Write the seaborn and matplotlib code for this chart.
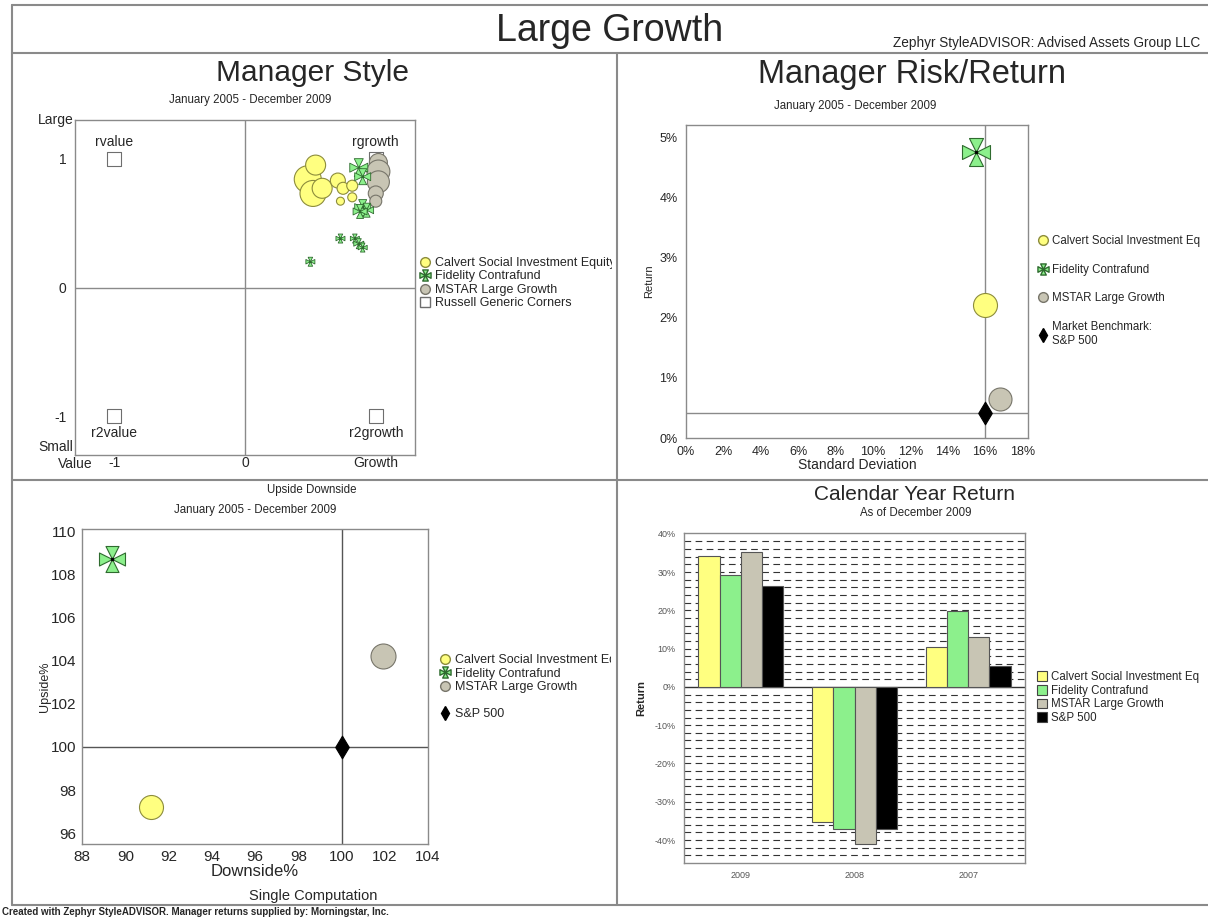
import numpy as np
import pandas as pd
import seaborn as sns
import matplotlib.pyplot as plt
from matplotlib.lines import Line2D
from matplotlib.patches import Patch
from matplotlib.path import Path
from matplotlib.transforms import Bbox, TransformedBbox
from matplotlib.ticker import MultipleLocator, FuncFormatter

sns.set_style("white")
plt.rcParams["font.family"] = ["Liberation Sans", "DejaVu Sans"]

# ---------------- data ----------------
funds = ["Calvert Social Investment Equity", "Fidelity Contrafund",
         "MSTAR Large Growth", "S&P 500"]
calvert_short = "Calvert Social Investment Eq"

# manager style map (value -> growth, small -> large), bubble diameter ~ weight
calvert_style_x = [0.48, 0.54, 0.52, 0.59, 0.71, 0.75, 0.82, 0.73, 0.82]
calvert_style_y = [0.84, 0.95, 0.73, 0.77, 0.83, 0.77, 0.79, 0.67, 0.70]
calvert_style_w = [27, 20, 26, 20, 15, 12, 11, 8, 9]
fidelity_style_x = [0.87, 0.90, 0.90, 0.93, 0.88, 0.73, 0.84, 0.87, 0.90, 0.50]
fidelity_style_y = [0.93, 0.86, 0.62, 0.60, 0.59, 0.38, 0.38, 0.34, 0.31, 0.20]
fidelity_style_w = [18, 16, 16, 14, 14, 9, 9, 10, 9, 9]
mstar_style_x = [1.02, 1.02, 1.02, 1.00, 1.00]
mstar_style_y = [0.97, 0.90, 0.82, 0.73, 0.67]
mstar_style_w = [18, 23, 22, 15, 12]
corner_names = ["rvalue", "rgrowth", "r2value", "r2growth"]
corner_x = [-1, 1, -1, 1]
corner_y = [1, 1, -1, -1]

# risk / return, Jan 2005 - Dec 2009 (%)
risk_std = [16.0, 15.5, 16.8, 16.0]
risk_ret = [2.21, 4.75, 0.64, 0.42]

# upside / downside capture (%)
downside = [91.2, 89.4, 101.9, 100.0]
upside = [97.2, 108.7, 104.2, 100.0]

# calendar year returns (%)
years = ["2009", "2008", "2007"]
ret_calvert = [34.3, -35.4, 10.4]
ret_fidelity = [29.3, -37.2, 19.7]
ret_mstar = [35.2, -41.0, 13.1]
ret_sp500 = [26.4, -37.0, 5.5]

# ---------------- styling ----------------
YELLOW, YEDGE = "#FFFF80", "#8C8C3C"
GREEN, GEDGE = "#8CF08C", "#2F6B2F"
GRAY, GRAYEDGE = "#C8C5B4", "#77756A"
FRAME = "#8A8A8A"
W, H = 1208, 918

# four-arm cross marker used for Fidelity
verts, codes = [], []
for tri in [((0, 0), (-0.5, 1), (0.5, 1)), ((0, 0), (1, 0.5), (1, -0.5)),
            ((0, 0), (0.5, -1), (-0.5, -1)), ((0, 0), (-1, -0.5), (-1, 0.5))]:
    verts += [tri[0], tri[1], tri[2], tri[0]]
    codes += [Path.MOVETO, Path.LINETO, Path.LINETO, Path.CLOSEPOLY]
CROSS = Path(verts, codes)


def px_s(d):
    return (np.asarray(d, dtype=float) * 0.72) ** 2


def ax_at(l, t, r, b):
    a = fig.add_axes([l / W, 1 - b / H, (r - l) / W, (b - t) / H])
    for sp in a.spines.values():
        sp.set_color(FRAME)
        sp.set_linewidth(1)
    a.tick_params(direction="out", length=4, color=FRAME, width=0.8, pad=2)
    return a


def ftext(x, y, s, **kw):
    kw.setdefault("ha", "center")
    kw.setdefault("va", "center")
    fig.text(x / W, 1 - y / H, s, **kw)


def clip_legend(leg, xmax):
    box = TransformedBbox(Bbox([[0, 0], [xmax / W, 1]]), fig.transFigure)
    for t in leg.get_texts():
        t.set_clip_box(box)
        t.set_clip_on(True)


fig = plt.figure(figsize=(W / 100, H / 100), dpi=100)

# frame lines
for xs, ys in [([12, 12], [5, 905]), ([12, W], [5, 5]), ([12, W], [53, 53]),
               ([617, 617], [53, 905]), ([12, W], [480, 480]), ([12, W], [905, 905])]:
    fig.add_artist(Line2D([x / W for x in xs], [1 - y / H for y in ys],
                          color=FRAME, lw=1.5, transform=fig.transFigure))

ftext(610, 31, "Large Growth", fontsize=27)
ftext(1200, 43, "Zephyr StyleADVISOR: Advised Assets Group LLC", fontsize=9.8, ha="right")
ftext(2, 912, "Created with Zephyr StyleADVISOR. Manager returns supplied by: Morningstar, Inc.",
      fontsize=7, fontweight="bold", ha="left")

# ---------------- Manager Style ----------------
ftext(313, 73, "Manager Style", fontsize=21.5)
ftext(250, 100, "January 2005 - December 2009", fontsize=8.3)
ax1 = ax_at(75, 120, 415, 455)
ax1.axvline(0, color=FRAME, lw=1, zorder=0)
ax1.axhline(0, color=FRAME, lw=1, zorder=0)
sns.scatterplot(x=corner_x, y=corner_y, marker="s", s=110, facecolor="white",
                edgecolor="#6E6E6E", linewidth=0.8, ax=ax1, zorder=2)
for name, cx, cy in zip(corner_names, corner_x, corner_y):
    ax1.annotate(name, (cx, cy), xytext=(0, 12 * cy), textcoords="offset points",
                 ha="center", va="center", fontsize=10)
sns.scatterplot(x=calvert_style_x, y=calvert_style_y, s=px_s(calvert_style_w),
                color=YELLOW, edgecolor=YEDGE, linewidth=0.8, ax=ax1, zorder=3)
sns.scatterplot(x=mstar_style_x, y=mstar_style_y, s=px_s(mstar_style_w),
                color=GRAY, edgecolor=GRAYEDGE, linewidth=0.8, ax=ax1, zorder=3)
sns.scatterplot(x=fidelity_style_x, y=fidelity_style_y, s=px_s(fidelity_style_w),
                marker=CROSS, color=GREEN, edgecolor=GEDGE, linewidth=0.6, ax=ax1, zorder=4)
ax1.set_xlim(-1.3, 1.3)
ax1.set_ylim(-1.3, 1.3)
ax1.set_xticks([-1, 0, 1])
ax1.set_xticklabels(["-1", "0", "Growth"])
ax1.set_yticks([-1, 0, 1])
ax1.set_yticklabels(["-1", "0", "1"])
ax1.tick_params(labelsize=10)
ax1.tick_params(axis="x", direction="in", length=3, pad=1)
ax1.text(-0.005, 1.0, "Large", transform=ax1.transAxes, ha="right", va="center", fontsize=10)
ax1.text(-0.005, 0.003, "Small", transform=ax1.transAxes, ha="right", va="bottom", fontsize=10)
ax1.text(0.0, -0.006, "Value", transform=ax1.transAxes, ha="center", va="top", fontsize=10)
h1 = [Line2D([], [], ls="none", marker="o", ms=7, mfc=YELLOW, mec=YEDGE),
      Line2D([], [], ls="none", marker=CROSS, ms=8, mfc=GREEN, mec=GEDGE),
      Line2D([], [], ls="none", marker="o", ms=7, mfc=GRAY, mec=GRAYEDGE),
      Line2D([], [], ls="none", marker="s", ms=7, mfc="white", mec="#6E6E6E")]
leg1 = ax1.legend(h1, funds[:3] + ["Russell Generic Corners"], loc="upper left",
                  bbox_to_anchor=(420 / W, 1 - 257 / H), bbox_transform=fig.transFigure,
                  frameon=False, fontsize=9, handlelength=0.8, handletextpad=0.4,
                  labelspacing=0.12, borderpad=0, borderaxespad=0)
clip_legend(leg1, 612)

# ---------------- Manager Risk/Return ----------------
ftext(912, 75, "Manager Risk/Return", fontsize=23.5)
ftext(855, 106, "January 2005 - December 2009", fontsize=8.3)
ax2 = ax_at(686, 125, 1028, 438)
ax2.axvline(risk_std[3], color=FRAME, lw=1, zorder=0)
ax2.axhline(risk_ret[3], color=FRAME, lw=1, zorder=0)
styles2 = [("o", YELLOW, YEDGE, 24), (CROSS, GREEN, GEDGE, 28),
           ("o", GRAY, GRAYEDGE, 23), ("d", "black", "black", 16)]
for i, (mk, fc, ec, d) in enumerate(styles2):
    sns.scatterplot(x=[risk_std[i]], y=[risk_ret[i]], marker=mk, s=px_s(d),
                    color=fc, edgecolor=ec, linewidth=0.8, ax=ax2, zorder=3)
ax2.plot(risk_std[1], risk_ret[1], "o", ms=1.5, color="black", zorder=5)
ax2.set_xlim(0, 18.3)
ax2.set_ylim(0, 5.2)
ax2.set_xticks(range(0, 19, 2))
ax2.set_yticks(range(0, 6))
ax2.xaxis.set_major_formatter(FuncFormatter(lambda v, p: f"{v:.0f}%"))
ax2.yaxis.set_major_formatter(FuncFormatter(lambda v, p: f"{v:.0f}%"))
ax2.xaxis.set_minor_locator(MultipleLocator(0.5))
ax2.yaxis.set_minor_locator(MultipleLocator(0.1))
ax2.tick_params(which="minor", direction="out", length=2, color=FRAME, width=0.6)
ax2.tick_params(labelsize=9)
ax2.set_xlabel("Standard Deviation", fontsize=10, labelpad=0)
ax2.set_ylabel("Return", fontsize=8, labelpad=4)
h2 = [Line2D([], [], ls="none", marker="o", ms=7, mfc=YELLOW, mec=YEDGE),
      Line2D([], [], ls="none", marker=CROSS, ms=8, mfc=GREEN, mec=GEDGE),
      Line2D([], [], ls="none", marker="o", ms=7, mfc=GRAY, mec=GRAYEDGE),
      Line2D([], [], ls="none", marker="d", ms=7, mfc="black", mec="black")]
ax2.legend(h2, [calvert_short] + funds[1:3] + ["Market Benchmark:\nS&P 500"], loc="upper left",
           bbox_to_anchor=(1038 / W, 1 - 235 / H), bbox_transform=fig.transFigure,
           frameon=False, fontsize=8.3, handlelength=0.85, handletextpad=0.4,
           labelspacing=1.45, borderpad=0, borderaxespad=0)

# ---------------- Upside / Downside ----------------
ftext(312, 490, "Upside Downside", fontsize=8.3)
ftext(255, 510, "January 2005 - December 2009", fontsize=8.3)
ftext(313, 896, "Single Computation", fontsize=10.5)
ax3 = ax_at(82, 529, 428, 844)
ax3.axvline(downside[3], color="#555555", lw=1, zorder=0)
ax3.axhline(upside[3], color="#555555", lw=1, zorder=0)
styles3 = [("o", YELLOW, YEDGE, 24), (CROSS, GREEN, GEDGE, 26),
           ("o", GRAY, GRAYEDGE, 25), ("d", "black", "black", 16)]
for i, (mk, fc, ec, d) in enumerate(styles3):
    sns.scatterplot(x=[downside[i]], y=[upside[i]], marker=mk, s=px_s(d),
                    color=fc, edgecolor=ec, linewidth=0.8, ax=ax3, zorder=3)
ax3.plot(downside[1], upside[1], "o", ms=1.5, color="black", zorder=5)
ax3.set_xlim(88, 104)
ax3.set_ylim(95.5, 110.1)
ax3.set_xticks(range(88, 105, 2))
ax3.set_yticks(range(96, 111, 2))
ax3.tick_params(labelsize=11, length=3, pad=1)
ax3.set_xlabel("Downside%", fontsize=12, labelpad=0)
ax3.set_ylabel("Upside%", fontsize=9, labelpad=0)
h3 = [Line2D([], [], ls="none", marker="o", ms=7, mfc=YELLOW, mec=YEDGE),
      Line2D([], [], ls="none", marker=CROSS, ms=8, mfc=GREEN, mec=GEDGE),
      Line2D([], [], ls="none", marker="o", ms=7, mfc=GRAY, mec=GRAYEDGE),
      Line2D([], [], ls="none"),
      Line2D([], [], ls="none", marker="d", ms=7, mfc="black", mec="black")]
leg3 = ax3.legend(h3, funds[:3] + [" ", funds[3]], loc="upper left",
                  bbox_to_anchor=(440 / W, 1 - 654 / H), bbox_transform=fig.transFigure,
                  frameon=False, fontsize=9, handlelength=0.8, handletextpad=0.4,
                  labelspacing=0.12, borderpad=0, borderaxespad=0)
clip_legend(leg3, 611)

# ---------------- Calendar Year Return ----------------
ftext(914, 495, "Calendar Year Return", fontsize=15)
ftext(916, 513, "As of December 2009", fontsize=8.3)
ax4 = ax_at(684, 533, 1025, 863)
df = pd.DataFrame({
    "year": years * 4,
    "ret": ret_calvert + ret_fidelity + ret_mstar + ret_sp500,
    "fund": [f for f in funds for _ in years],
})
for g in np.arange(-44, 40, 2):
    if g != 0:
        ax4.axhline(g, color="#333333", lw=0.8, ls=(0, (6, 4)), zorder=0)
ax4.axhline(0, color="#333333", lw=1, zorder=0.6)
sns.barplot(data=df, x="year", y="ret", hue="fund", order=years, hue_order=funds,
            palette=[YELLOW, GREEN, GRAY, "black"], saturation=1, width=0.75,
            edgecolor="#555555", linewidth=0.8, errorbar=None, legend=False, ax=ax4)
ax4.set_xlim(-0.5, 2.5)
ax4.set_ylim(-46, 40.2)
ax4.set_yticks(range(-40, 41, 10))
ax4.yaxis.set_major_formatter(FuncFormatter(lambda v, p: f"{v:.0f}%"))
ax4.yaxis.set_minor_locator(MultipleLocator(2))
ax4.tick_params(which="minor", direction="out", length=3, color=FRAME, width=0.6)
ax4.tick_params(labelsize=6.5, labelcolor="#555555")
ax4.set_xlabel("")
ax4.set_ylabel("Return", fontsize=8, fontweight="bold", labelpad=6)
h4 = [Patch(facecolor=c, edgecolor="#444444", lw=0.8)
      for c in [YELLOW, GREEN, GRAY, "black"]]
ax4.legend(h4, [calvert_short] + funds[1:], loc="upper left",
           bbox_to_anchor=(1037 / W, 1 - 671 / H), bbox_transform=fig.transFigure,
           frameon=False, fontsize=8.3, handlelength=0.9, handleheight=0.9,
           handletextpad=0.3, labelspacing=0.15, borderpad=0, borderaxespad=0)

fig.savefig("out.png", dpi=100)
